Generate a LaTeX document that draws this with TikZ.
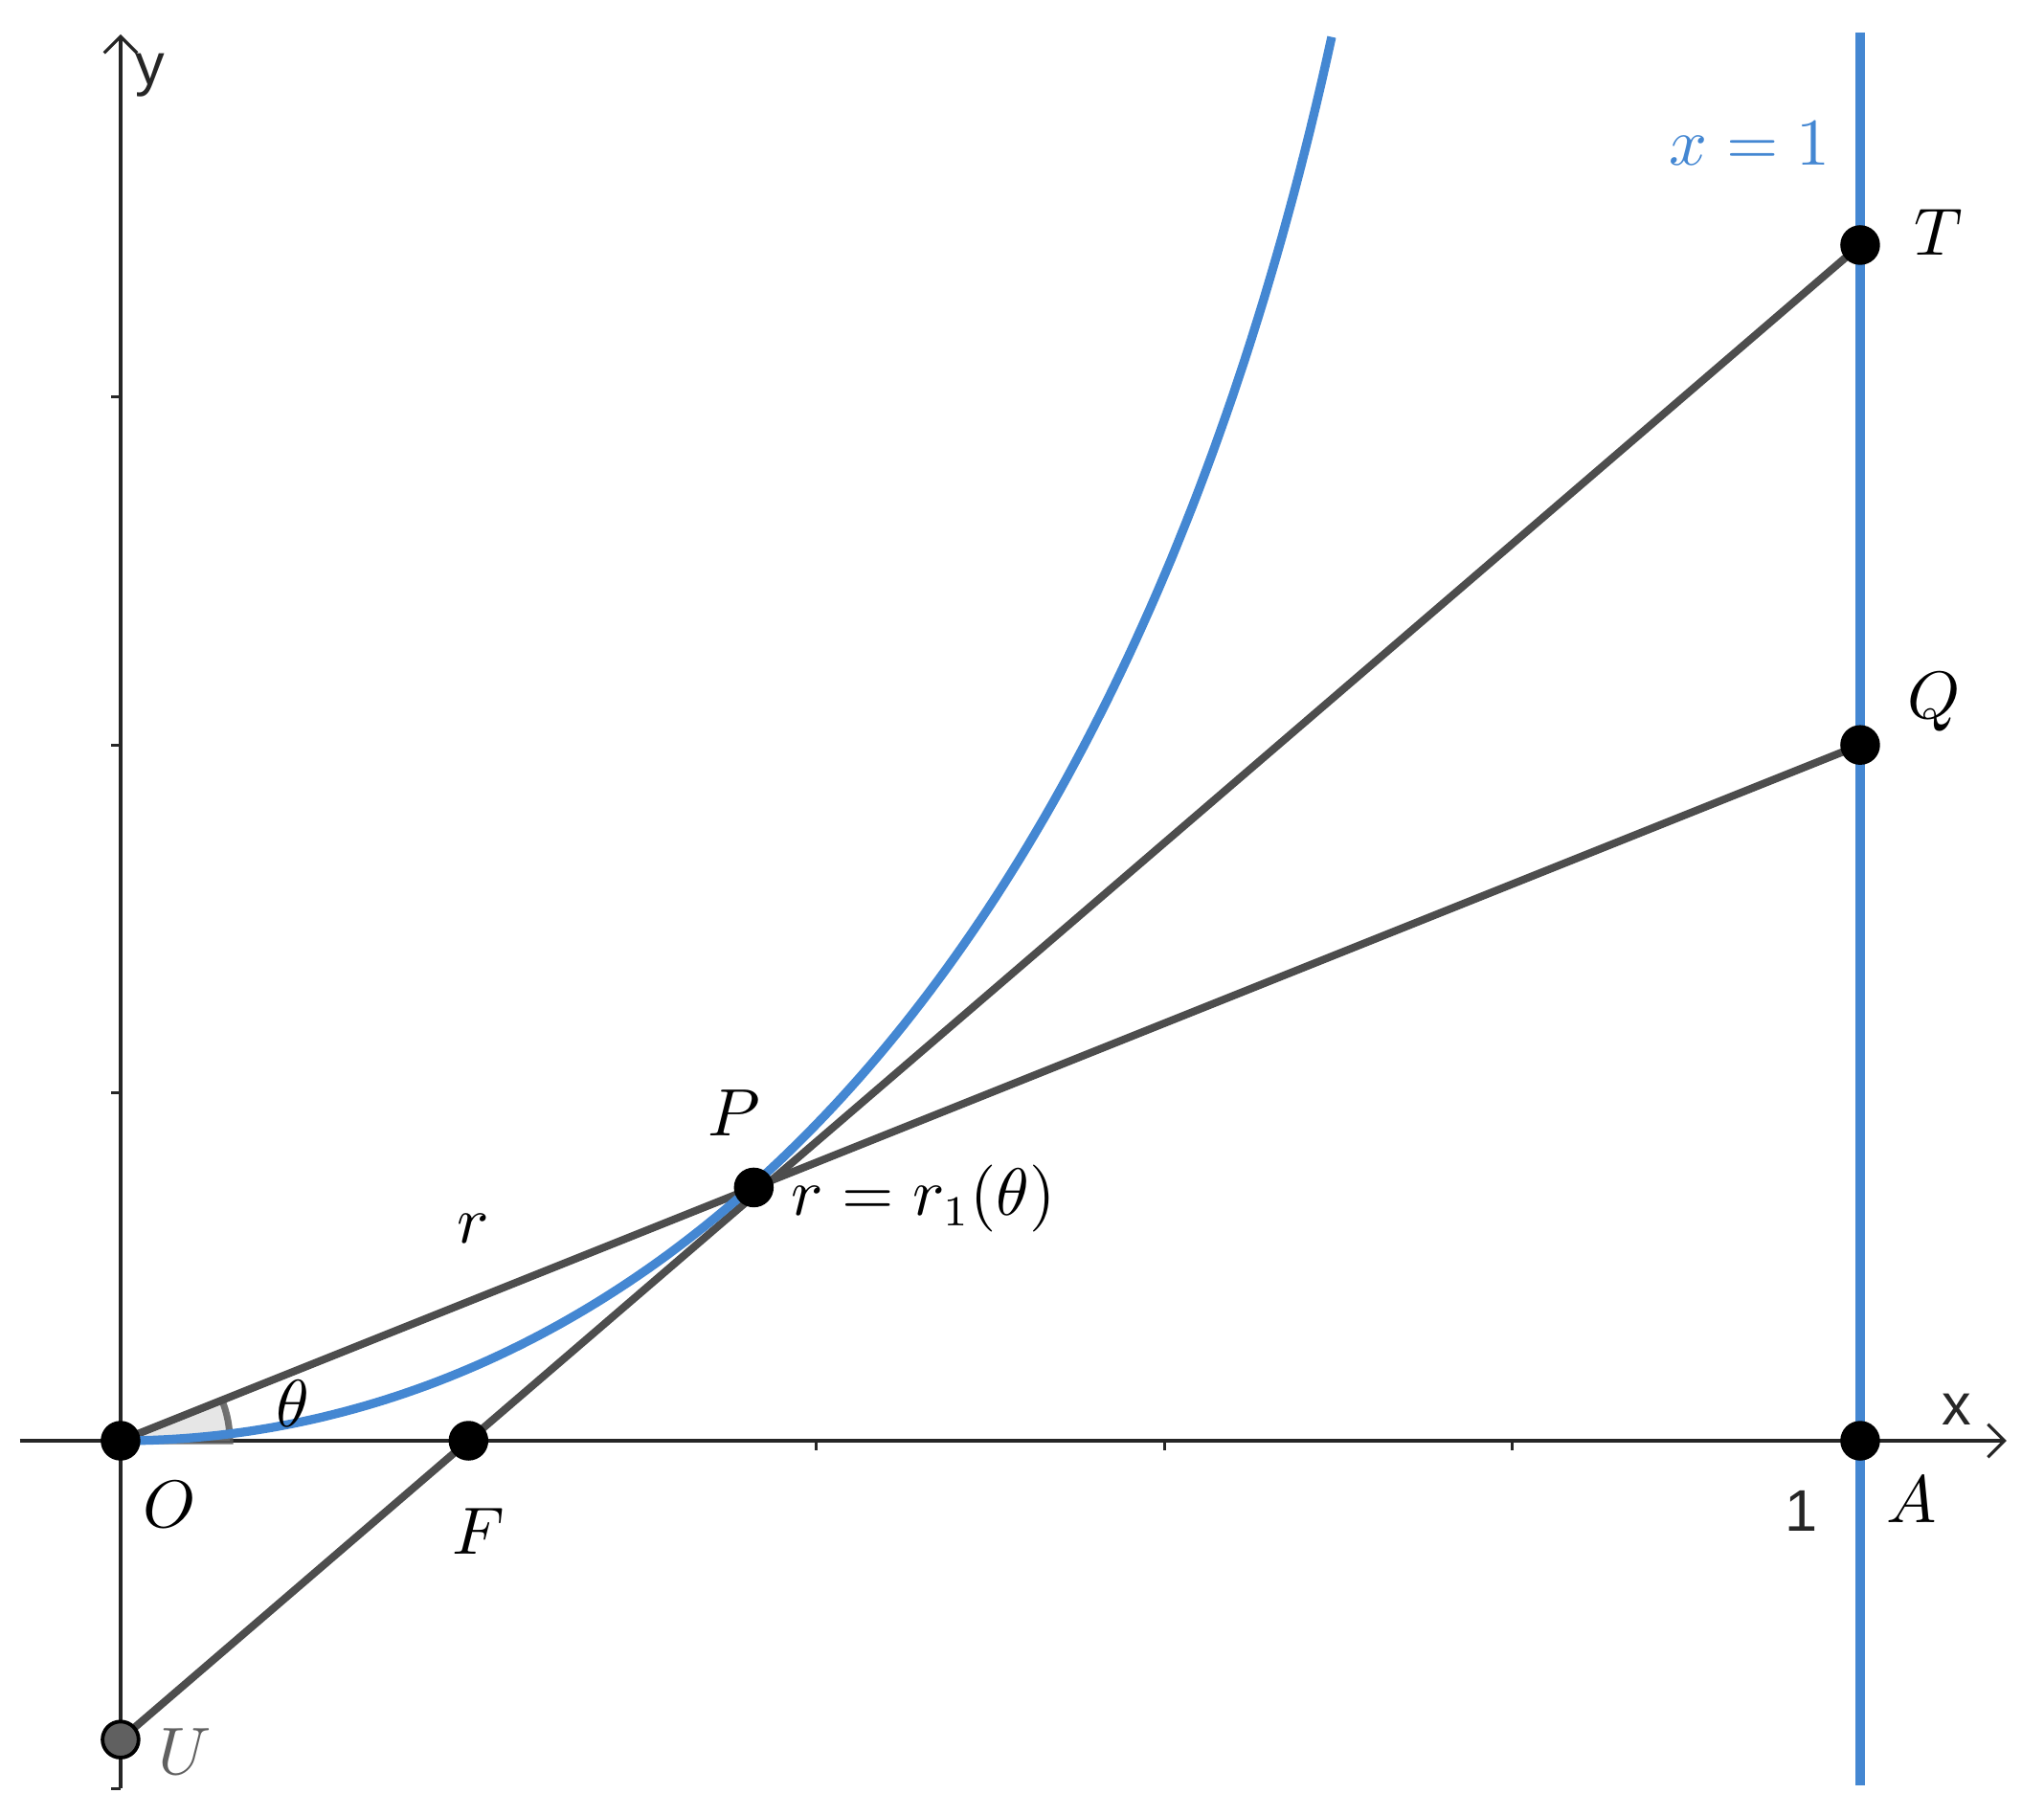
\documentclass[tikz,border=0pt]{standalone}
\usepackage{fontspec}
\newfontfamily\axisfont{Liberation Sans}
\usetikzlibrary{arrows.meta}
\definecolor{gblue}{RGB}{68,135,210}
\definecolor{ggray}{RGB}{77,77,77}
\definecolor{ugray}{RGB}{96,96,96}
\definecolor{axcol}{RGB}{38,38,38}
\tikzset{
  axisline/.style={draw=axcol, line width=0.5pt},
  axarrow/.style={-{Straight Barb[length=2.7pt,width=5.4pt,line width=0.5pt]}},
  seg/.style={draw=ggray, line width=1.25pt},
  blueline/.style={draw=gblue, line width=1.55pt},
  bluecurve/.style={draw=gblue, line width=1.45pt},
  dot/.style={circle, fill=black, inner sep=0pt, minimum size=6.5pt},
  udot/.style={circle, fill=ugray, draw=black, line width=0.6pt, inner sep=0pt, minimum size=5.9pt},
  lab/.style={inner sep=0pt, font=\fontsize{10.7}{12}\selectfont},
  axl/.style={inner sep=0pt, font=\axisfont\fontsize{9.6}{11}\selectfont, text=axcol},
  anglesector/.style={fill=black!12, draw=black!65, line width=1.1pt, fill opacity=0.8, draw opacity=0.85}
}
\begin{document}
\begin{tikzpicture}[x=10cm,y=10cm]
\useasboundingbox (-0.0693,-0.2157) rectangle (1.1057,0.8283);
% coordinates
\coordinate (O) at (0,0);
\coordinate (A) at (1,0);
\coordinate (F) at (0.2,0);
\coordinate (U) at (0,-0.1718);
\coordinate (T) at (1,0.6874);
\coordinate (Q) at (1,0.4);
\coordinate (P) at (0.3640,0.1456);
\coordinate (xs) at (-0.058,0);
\coordinate (xe) at (1.0842,0);
\coordinate (ys) at (0,-0.2);
\coordinate (ye) at (0,0.8085);
\coordinate (lb) at (1,-0.198);
\coordinate (lt) at (1,0.8096);
% axes
\draw[axisline, axarrow] (xs) -- (xe);
\draw[axisline, axarrow] (ys) -- (ye);
\foreach \t in {0.2,0.4,0.6,0.8,1}{\draw[axisline] (\t,0) -- ++(0,-0.0055);}
\foreach \t in {-0.2,0.2,0.4,0.6}{\draw[axisline] (0,\t) -- ++(-0.0055,0);}
% angle
\filldraw[anglesector] (O) -- (6.28mm,0) arc[start angle=0, end angle=21.8, radius=6.28mm] -- cycle;
% gray segments
\draw[seg] (U) -- (T);
\draw[seg] (O) -- (Q);
% blue line x=1 and curve
\draw[blueline] (lb) -- (lt);
\draw[bluecurve] plot[domain=0:0.8605, samples=140, variable=\t]
  ({\t*(1+0.38*\t*\t*\t)*cos(\t r)}, {\t*(1+0.38*\t*\t*\t)*sin(\t r)});
% points
\node[dot] (Od) at (O) {};
\node[dot] (Fd) at (F) {};
\node[dot] (Ad) at (A) {};
\node[dot] (Td) at (T) {};
\node[dot] (Qd) at (Q) {};
\node[dot] (Pd) at (P) {};
\node[udot] (Ud) at (U) {};
% labels
\node[lab] (Ol) at (0.028,-0.0369) {$O$};
\node[lab] (Fl) at (0.2058,-0.0523) {$F$};
\node[lab, text=ugray] (Ul) at (0.0369,-0.1789) {$U$};
\node[lab] (Pl) at (0.3528,0.1882) {$P$};
\node[lab] (rl) at (0.2025,0.1222) {$r$};
\node[lab] (r1l) at (0.4617,0.1392) {$r = r_1(\theta)$};
\node[lab] (Tl) at (1.0451,0.6945) {$T$};
\node[lab] (Ql) at (1.0424,0.4249) {$Q$};
\node[lab] (Al) at (1.0297,-0.0341) {$A$};
\node[lab] (thl) at (0.099,0.0215) {$\theta$};
\node[lab, text=gblue] (xl) at (0.9367,0.7457) {$x = 1$};
\node[axl] (xa) at (1.0556,0.0182) {x};
\node[axl] (ya) at (0.017,0.785) {y};
\node[axl] (one) at (0.9664,-0.0402) {1};
\end{tikzpicture}
\end{document}
